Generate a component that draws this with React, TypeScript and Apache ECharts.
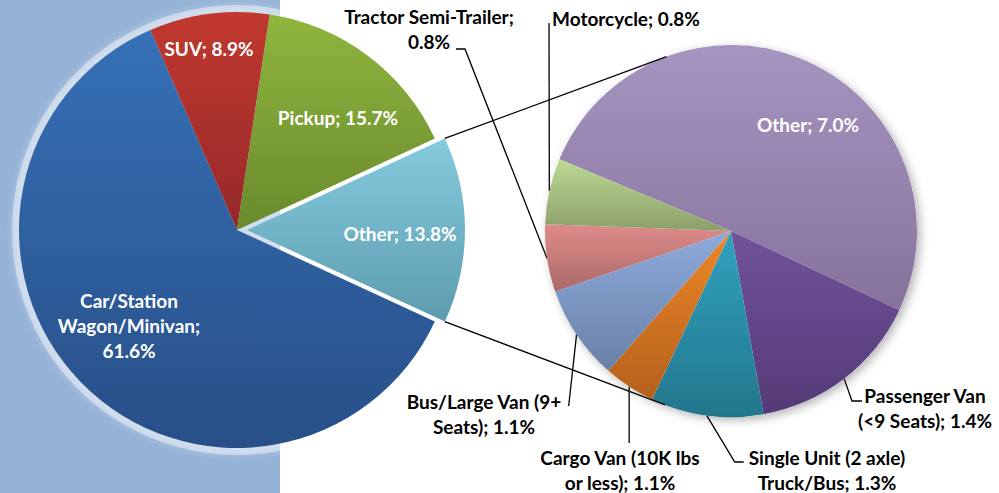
import React, { useEffect, useRef } from "react";
import * as echarts from "echarts";

// ---------- data ----------
const mainCategories = ["Other", "Car/Station Wagon/Minivan", "SUV", "Pickup"];
const mainValues = [13.8, 61.6, 8.9, 15.7];
const mainLabels = [
  "Other; 13.8%",
  "Car/Station\nWagon/Minivan;\n61.6%",
  "SUV; 8.9%",
  "Pickup; 15.7%",
];

const subCategories = [
  "Other",
  "Passenger Van (<9 Seats)",
  "Single Unit (2 axle) Truck/Bus",
  "Cargo Van (10K lbs or less)",
  "Bus/Large Van (9+ Seats)",
  "Tractor Semi-Trailer",
  "Motorcycle",
];
// slice sizes as drawn in the picture
const subValues = [7.0, 2.1, 1.35, 0.62, 1.14, 0.81, 0.79];
const subLabels = [
  "Other; 7.0%",
  "Passenger Van\n(<9 Seats); 1.4%",
  "Single Unit (2 axle)\nTruck/Bus; 1.3%",
  "Cargo Van (10K lbs\nor less); 1.1%",
  "Bus/Large Van (9+\nSeats); 1.1%",
  "Tractor Semi-Trailer;\n0.8%",
  "Motorcycle; 0.8%",
];

// ---------- styles / layout ----------
const mainColors = [
  ["#86cadf", "#5d9cae"],
  ["#3670b6", "#284f88"],
  ["#c1392f", "#95282a"],
  ["#8fb63e", "#6a8a2d"],
];
const subColors = [
  ["#a694c1", "#86739c"],
  ["#71529b", "#553a77"],
  ["#31a2bf", "#22768c"],
  ["#ee8628", "#b4601c"],
  ["#8fabdc", "#6881a8"],
  ["#de8c8a", "#ab6969"],
  ["#bcd993", "#8ca06a"],
];

const L_CX = 237, L_CY = 230, L_R = 218, EXPLODE = 10;
const R_CX = 731, R_CY = 231, R_R = 186;
const R_START = 157.3;
const FONT = "Lato";
const FS = 19;
const LH = 25;

const mainLabelPos = [[400, 233], [129, 325], [209, 48], [338, 117]];
const subLabelPos = [[808, 124], [925, 408], [827, 470], [620, 470], [484, 414], [429, 29], [552, 18]];

const grad = (c: string[]) => ({
  type: "linear", x: 0, y: 0, x2: 0, y2: 1,
  colorStops: [{ offset: 0, color: c[0] }, { offset: 1, color: c[1] }],
});

function tangentPoint(px: number, py: number, upper: boolean) {
  const dx = px - R_CX, dy = py - R_CY;
  const d = Math.hypot(dx, dy);
  const a = Math.acos(R_R / d);
  const base = Math.atan2(dy, dx);
  const c1 = [R_CX + R_R * Math.cos(base + a), R_CY + R_R * Math.sin(base + a)];
  const c2 = [R_CX + R_R * Math.cos(base - a), R_CY + R_R * Math.sin(base - a)];
  if (upper) return c1[1] < c2[1] ? c1 : c2;
  return c1[1] > c2[1] ? c1 : c2;
}

export default function App() {
  const ref = useRef<HTMLDivElement>(null);
  useEffect(() => {
    if (!ref.current) return;
    const chart = echarts.init(ref.current, null, { renderer: "svg" });

    const total = mainValues.reduce((a, b) => a + b, 0);
    const halfSpan = (mainValues[0] / total) * 180; // degrees
    const startMain = halfSpan; // split slice centred at 3 o'clock

    // connector lines (edges of the split slice to tangents of the second pie)
    const ax = L_CX + EXPLODE, ay = L_CY;
    const t1 = ((90 - halfSpan) * Math.PI) / 180;
    const t2 = ((90 + halfSpan) * Math.PI) / 180;
    const p1 = [ax + L_R * Math.sin(t1), ay - L_R * Math.cos(t1)];
    const p2 = [ax + L_R * Math.sin(t2), ay - L_R * Math.cos(t2)];
    const q1 = tangentPoint(p1[0], p1[1], true);
    const q2 = tangentPoint(p2[0], p2[1], false);

    const labelBase = {
      fontFamily: FONT,
      fontWeight: "bold",
      fontSize: FS,
      lineHeight: LH,
    };

    const subLeader = (i: number, x: number, y: number, w: number, h: number, anchor: number[]) => {
      const left = x - w / 2, right = x + w / 2, top = y - h / 2;
      switch (i) {
        case 1: { const e = [left + 4, top + 18]; return [anchor, [e[0] - 10, e[1]], e]; }
        case 2: { const e = [left - 5, top + 17]; return [anchor, [e[0] - 9, e[1]], e]; }
        case 3: { const e = [anchor[0], top - 2]; return [anchor, e, e]; }
        case 4: { const e = [right + 7, top + 17]; return [anchor, e, e]; }
        case 5: { const e = [x + 27, y + 20]; return [anchor, [e[0] + 9, e[1]], e]; }
        case 6: { const e = [x - 3, y + 5]; return [anchor, e, e]; }
      }
      return [anchor, anchor, anchor];
    };

    const mainSeries = (exploded: boolean) => ({
      type: "pie",
      z: 2,
      silent: true,
      center: [exploded ? L_CX + EXPLODE : L_CX, L_CY],
      radius: L_R,
      startAngle: startMain,
      clockwise: true,
      avoidLabelOverlap: false,
      emphasis: { disabled: true },
      label: { show: true, position: "inside", color: "#ffffff", ...labelBase, formatter: (p: any) => mainLabels[p.dataIndex] },
      labelLine: { show: false },
      labelLayout: (p: any) => ({ x: mainLabelPos[p.dataIndex][0], y: mainLabelPos[p.dataIndex][1], align: "center", verticalAlign: "middle" }),
      data: mainCategories.map((n, i) => {
        const visible = exploded ? i === 0 : i !== 0;
        return {
          name: n, value: mainValues[i],
          itemStyle: visible ? { color: grad(mainColors[i]), borderWidth: 0 } : { color: "rgba(0,0,0,0)", borderWidth: 0 },
          label: { show: visible },
        };
      }),
    });

    chart.setOption({
      animation: false,
      backgroundColor: "#ffffff",
      graphic: [
        { type: "rect", z: -10, shape: { x: 0, y: 0, width: 280, height: 493 }, style: { fill: "#95b3d7" }, silent: true },
        { type: "line", z: 100, shape: { x1: p1[0], y1: p1[1], x2: q1[0], y2: q1[1] }, style: { stroke: "#000", lineWidth: 1.3 }, silent: true },
        { type: "line", z: 100, shape: { x1: p2[0], y1: p2[1], x2: q2[0], y2: q2[1] }, style: { stroke: "#000", lineWidth: 1.3 }, silent: true },
      ],
      series: [
        {
          type: "pie", z: 1, silent: true, center: [L_CX, L_CY], radius: L_R + 7,
          label: { show: false }, labelLine: { show: false },
          itemStyle: { color: "rgba(255,255,255,0.42)", borderWidth: 0, shadowBlur: 8, shadowColor: "rgba(255,255,255,0.6)" },
          data: [{ value: 1, name: "glow" }],
        },
        {
          type: "pie", z: 1, silent: true, center: [R_CX, R_CY], radius: R_R,
          label: { show: false }, labelLine: { show: false },
          itemStyle: { color: "#ffffff", borderWidth: 0, shadowBlur: 10, shadowOffsetX: 3, shadowOffsetY: 3, shadowColor: "rgba(0,0,0,0.3)" },
          data: [{ value: 1, name: "shadow" }],
        },
        mainSeries(false),
        mainSeries(true),
        {
          type: "pie",
          z: 2,
          silent: true,
          center: [R_CX, R_CY],
          radius: R_R,
          startAngle: R_START,
          clockwise: true,
          avoidLabelOverlap: false,
          emphasis: { disabled: true },
          itemStyle: { borderWidth: 0 },
          label: { show: true, position: "outside", color: "#000000", ...labelBase, formatter: (p: any) => subLabels[p.dataIndex] },
          labelLine: { show: true, length: 10, length2: 10, lineStyle: { color: "#000", width: 1.3 } },
          labelLayout: (p: any) => {
            const i = p.dataIndex;
            const [x, y] = subLabelPos[i];
            if (i === 0) return { x, y, align: "center", verticalAlign: "middle" };
            const w = p.labelRect.width, h = p.labelRect.height;
            const anchor = p.labelLinePoints ? p.labelLinePoints[0] : [x, y];
            const align = i === 6 ? "left" : "center";
            const pts = subLeader(i, x, y, w, h, anchor);
            return { x, y, align, verticalAlign: "middle", labelLinePoints: pts };
          },
          data: subCategories.map((n, i) => ({
            name: n, value: subValues[i],
            itemStyle: { color: grad(subColors[i]), borderWidth: 0 },
            label: i === 0 ? { position: "inside", color: "#ffffff" } : undefined,
            labelLine: i === 0 ? { show: false } : undefined,
          })),
        },
      ],
    });
    return () => chart.dispose();
  }, []);
  return <div ref={ref} style={{ position: "fixed", left: 0, top: 0, width: 999, height: 493 }} />;
}
